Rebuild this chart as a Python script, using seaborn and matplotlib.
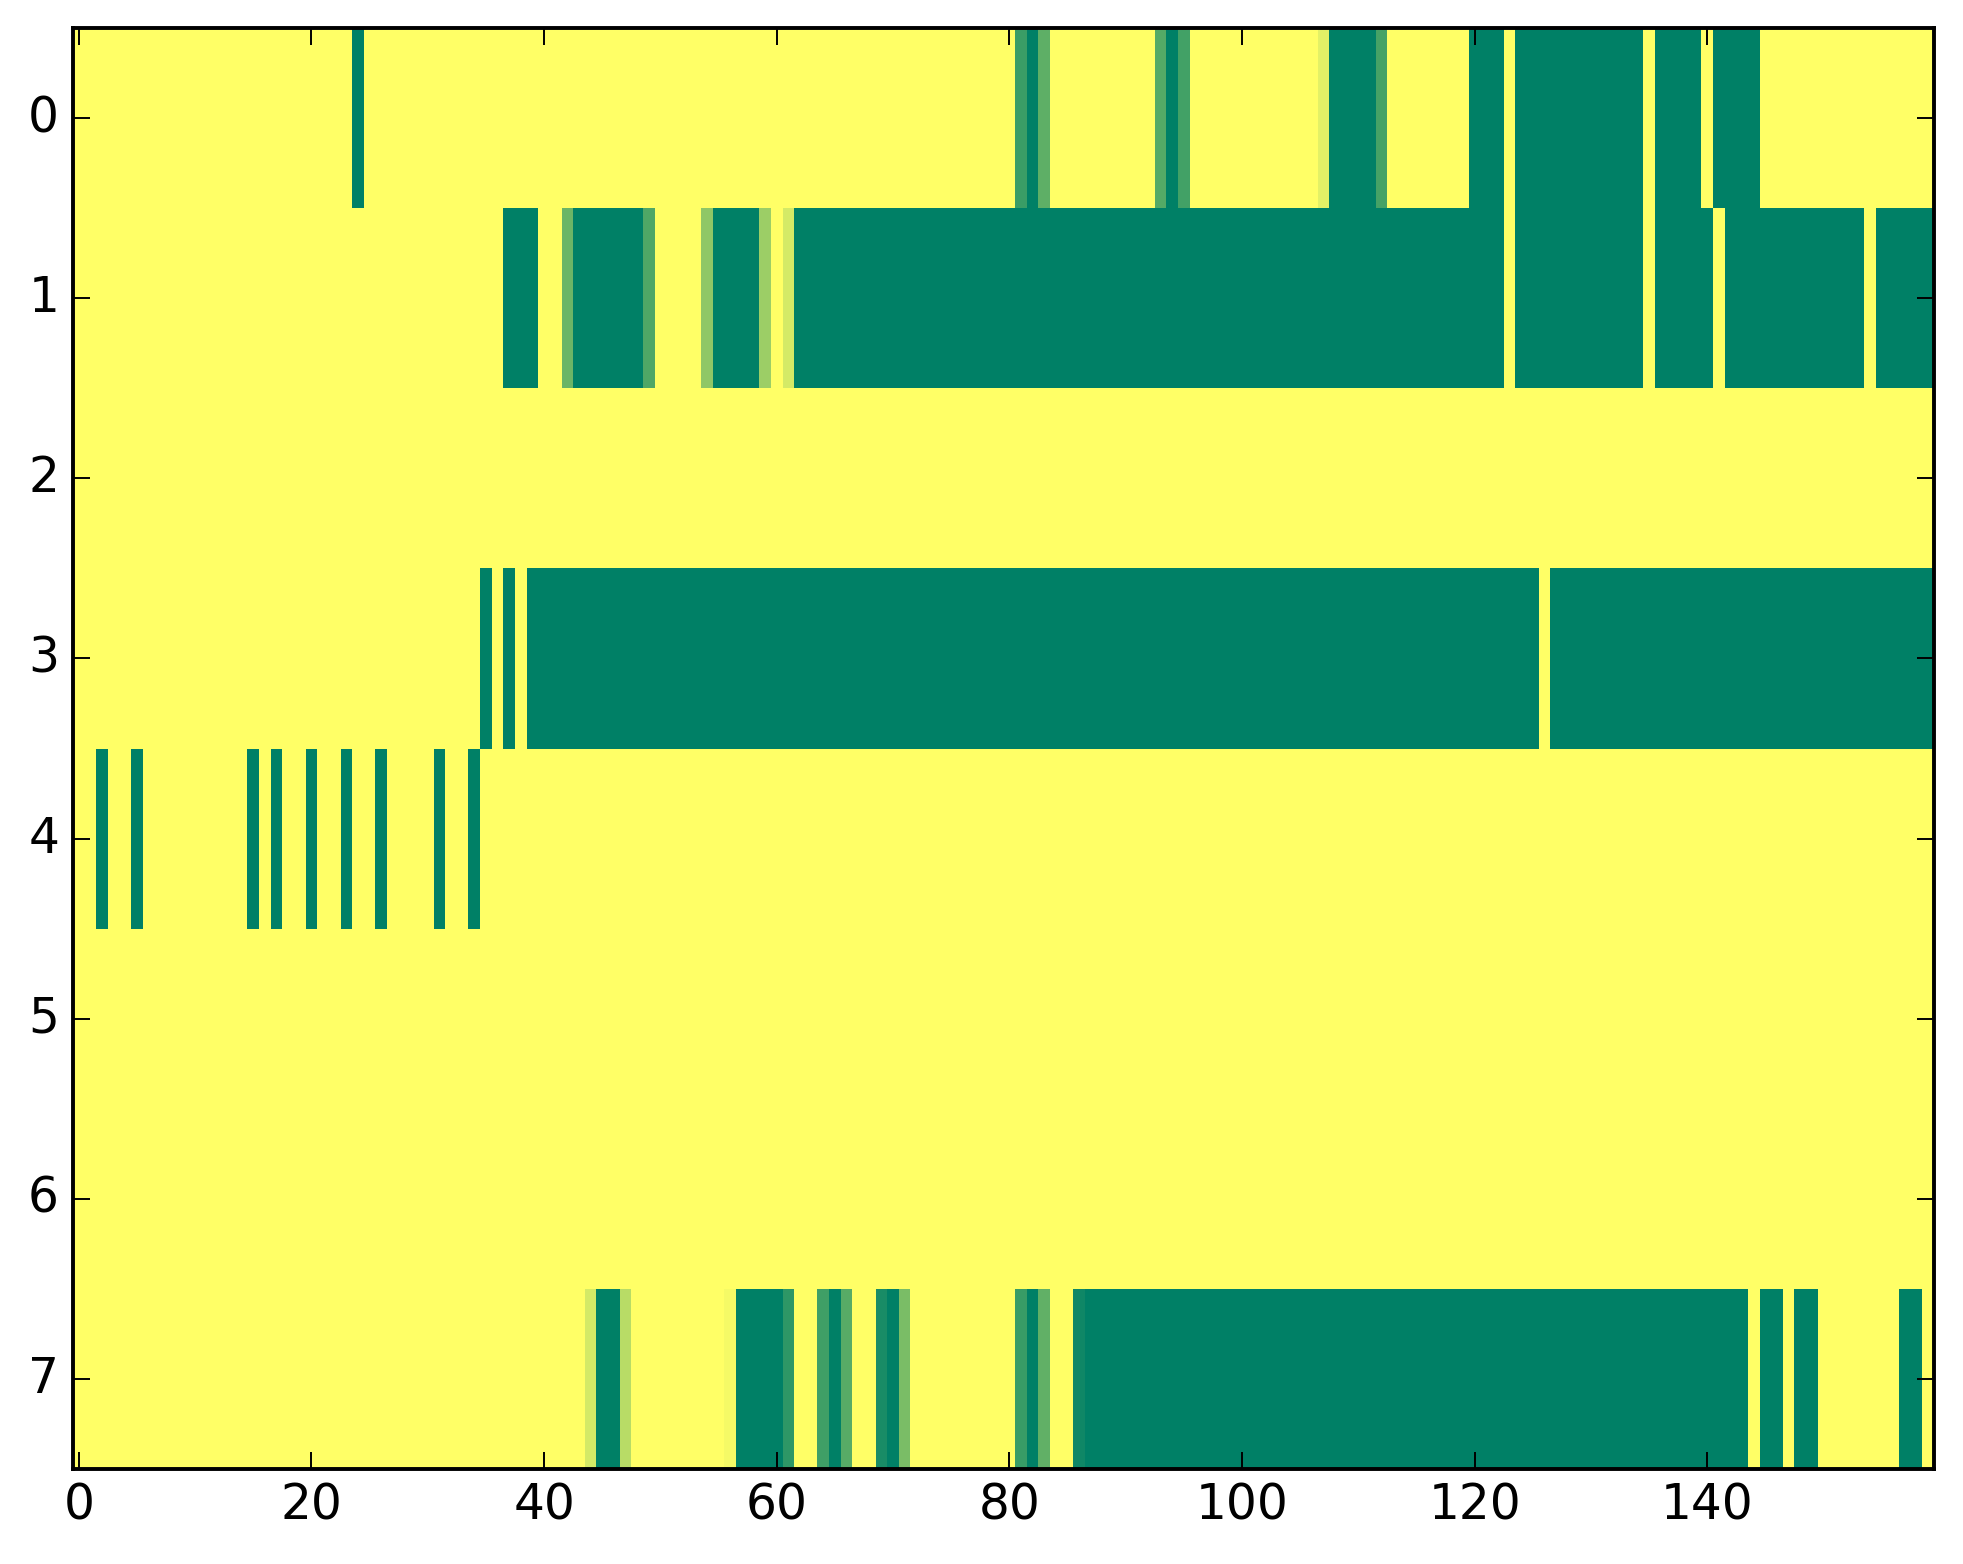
import numpy as np
import matplotlib
matplotlib.use("Agg")
import matplotlib.pyplot as plt
import seaborn as sns


OUTPUT_PATH = "out.png"

N_ROWS = 8
N_COLS = 160

# runs of non-zero cells per row: (first column, last column, value)
row0_runs = [
    (24, 24, 1.0), (81, 81, 0.77), (82, 82, 1.0), (83, 83, 0.63),
    (93, 93, 0.67), (94, 94, 1.0), (95, 95, 0.74), (107, 107, 0.11),
    (108, 111, 1.0), (112, 112, 0.73), (120, 122, 1.0), (124, 134, 1.0),
    (136, 139, 1.0), (141, 144, 1.0),
]
row1_runs = [
    (37, 39, 1.0), (42, 42, 0.58), (43, 48, 1.0), (49, 49, 0.69),
    (54, 54, 0.44), (55, 58, 1.0), (59, 59, 0.39), (61, 61, 0.17),
    (62, 122, 1.0), (124, 134, 1.0), (136, 140, 1.0), (142, 153, 1.0),
    (155, 159, 1.0),
]
row3_runs = [
    (35, 35, 1.0), (37, 37, 1.0), (39, 125, 1.0), (127, 159, 1.0),
]
row4_runs = [
    (2, 2, 1.0), (5, 5, 1.0), (15, 15, 1.0), (17, 17, 1.0), (20, 20, 1.0),
    (23, 23, 1.0), (26, 26, 1.0), (31, 31, 1.0), (34, 34, 1.0),
]
row7_runs = [
    (44, 44, 0.17), (45, 46, 1.0), (47, 47, 0.28), (56, 56, 0.04),
    (57, 60, 1.0), (61, 61, 0.82), (64, 64, 0.75), (65, 65, 1.0),
    (66, 66, 0.66), (69, 69, 0.90), (70, 70, 1.0), (71, 71, 0.52),
    (81, 81, 0.78), (82, 82, 1.0), (83, 83, 0.62), (86, 86, 0.94),
    (87, 143, 1.0), (145, 146, 1.0), (148, 149, 1.0), (157, 158, 1.0),
]

row_runs = {0: row0_runs, 1: row1_runs, 3: row3_runs, 4: row4_runs, 7: row7_runs}

x_ticks = [0, 20, 40, 60, 80, 100, 120, 140]
y_ticks = [0, 1, 2, 3, 4, 5, 6, 7]


def build_matrix():
    matrix = np.zeros((N_ROWS, N_COLS))
    for row, runs in row_runs.items():
        for first, last, value in runs:
            matrix[row, first:last + 1] = value
    return matrix


def plot_heatmap():

    matrix = build_matrix()

    fig = plt.figure(figsize=(19.63, 15.64), dpi=100)
    ax = fig.add_axes([73 / 1963, 1 - 1469 / 1564,
                       (1934 - 73) / 1963, (1469 - 28) / 1564])

    sns.heatmap(
        matrix,
        cmap="summer_r",
        vmin=0,
        vmax=1,
        cbar=False,
        ax=ax
    )

    # classic-looking frame and ticks
    for side in ["left", "right", "top", "bottom"]:
        ax.spines[side].set_visible(True)
        ax.spines[side].set_linewidth(2.8)
        ax.spines[side].set_color("black")

    ax.set_xticks([t + 0.5 for t in x_ticks])
    ax.set_xticklabels([str(t) for t in x_ticks], rotation=0)
    ax.set_yticks([t + 0.5 for t in y_ticks])
    ax.set_yticklabels([str(t) for t in y_ticks], rotation=0)

    ax.tick_params(
        axis="both", which="major", direction="in",
        top=True, right=True, bottom=True, left=True,
        length=12, width=1.4, labelsize=35, color="black"
    )
    ax.tick_params(axis="x", pad=9)
    ax.tick_params(axis="y", pad=10)

    fig.savefig(OUTPUT_PATH, dpi=100)


if __name__ == "__main__":

    plot_heatmap()
